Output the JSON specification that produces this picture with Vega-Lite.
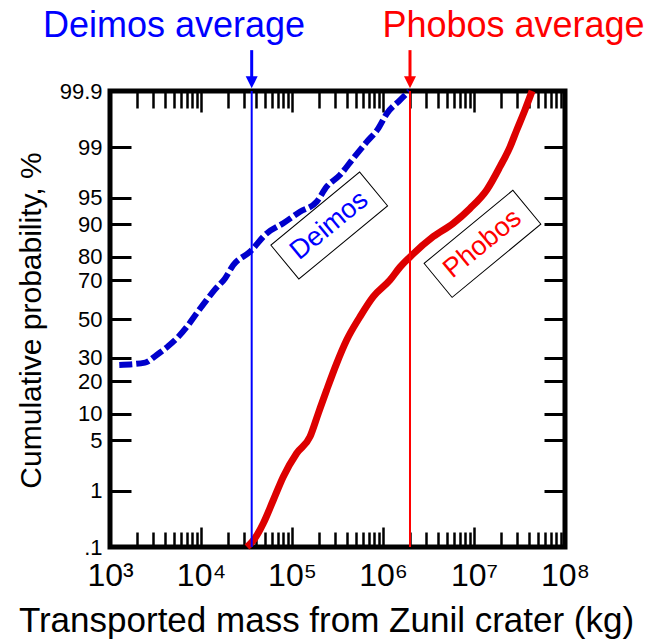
{
  "$schema": "https://vega.github.io/schema/vega-lite/v6.json",
  "width": 455,
  "height": 456,
  "autosize": {"type": "none"},
  "padding": {"left": 110, "top": 91, "right": 87, "bottom": 93},
  "background": "white",
  "config": {"font": "Liberation Sans", "view": {"stroke": "black", "strokeWidth": 5}},
  "datasets": {
    "phobos": [
      {"mass": 32030, "p": 0.1},
      {"mass": 39180, "p": 0.148},
      {"mass": 48420, "p": 0.282},
      {"mass": 62370, "p": 0.708},
      {"mass": 80200, "p": 1.63},
      {"mass": 112600, "p": 3.44},
      {"mass": 157800, "p": 5.54},
      {"mass": 194600, "p": 10.06},
      {"mass": 240400, "p": 16.8},
      {"mass": 309700, "p": 27.4},
      {"mass": 398800, "p": 38.8},
      {"mass": 558500, "p": 51.2},
      {"mass": 781800, "p": 61.9},
      {"mass": 1194000, "p": 70.1},
      {"mass": 1538000, "p": 75.9},
      {"mass": 1980000, "p": 80.0},
      {"mass": 3570000, "p": 86.8},
      {"mass": 5930000, "p": 90.3},
      {"mass": 9040000, "p": 93.3},
      {"mass": 13800000, "p": 95.98},
      {"mass": 19300000, "p": 98.05},
      {"mass": 24900000, "p": 99.02},
      {"mass": 29500000, "p": 99.48},
      {"mass": 36300000, "p": 99.77},
      {"mass": 43500000, "p": 99.9}
    ],
    "deimos": [
      {"mass": 1265, "p": 26.7},
      {"mass": 2427, "p": 27.7},
      {"mass": 3260, "p": 31.3},
      {"mass": 4375, "p": 35.7},
      {"mass": 5640, "p": 40.5},
      {"mass": 7250, "p": 46.8},
      {"mass": 8970, "p": 53.1},
      {"mass": 11560, "p": 60.2},
      {"mass": 14260, "p": 65.6},
      {"mass": 18360, "p": 70.9},
      {"mass": 22650, "p": 76.8},
      {"mass": 34540, "p": 81.9},
      {"mass": 52700, "p": 87.7},
      {"mass": 80200, "p": 90.3},
      {"mass": 122400, "p": 92.7},
      {"mass": 186700, "p": 94.4},
      {"mass": 240400, "p": 96.35},
      {"mass": 336500, "p": 97.45},
      {"mass": 471600, "p": 98.53},
      {"mass": 662300, "p": 99.18},
      {"mass": 887900, "p": 99.51},
      {"mass": 1098500, "p": 99.73},
      {"mass": 1538000, "p": 99.85},
      {"mass": 1950000, "p": 99.9}
    ],
    "averages": [
      {"series": "Deimos", "mass": 36060},
      {"series": "Phobos", "mass": 1980000}
    ],
    "arrows": [
      {"series": "Deimos", "mass": 36060, "p": 99.98658, "p2": 99.945, "ph": 99.9333},
      {"series": "Phobos", "mass": 1980000, "p": 99.98658, "p2": 99.945, "ph": 99.9333}
    ],
    "headers": [
      {"series": "Deimos", "mass": 5050, "p": 99.993335, "label": "Deimos average"},
      {"series": "Phobos", "mass": 27170000, "p": 99.993335, "label": "Phobos average"}
    ],
    "boxes": [
      {"series": "Deimos", "mass": 256500, "p": 89.74, "label": "Deimos"},
      {"series": "Phobos", "mass": 12390000, "p": 84.6, "label": "Phobos"}
    ]
  },
  "resolve": {"axis": {"x": "independent", "y": "independent"}},
  "layer": [
    {
      "data": {"name": "phobos"},
      "transform": [{"calculate": "quantileNormal(datum.p/100)", "as": "z"}],
      "mark": {"type": "line", "color": "#dd0000", "strokeWidth": 7, "interpolate": "monotone"},
      "encoding": {
        "x": {
          "field": "mass", "type": "quantitative",
          "scale": {"type": "log", "domain": [1000, 100000000]},
          "axis": {
            "orient": "bottom",
            "values": [1000,2000,3000,4000,5000,6000,7000,8000,9000,10000,20000,30000,40000,50000,60000,70000,80000,90000,100000,200000,300000,400000,500000,600000,700000,800000,900000,1000000,2000000,3000000,4000000,5000000,6000000,7000000,8000000,9000000,10000000,20000000,30000000,40000000,50000000,60000000,70000000,80000000,90000000,100000000],
            "labelExpr": "abs(log(datum.value)/LN10 - round(log(datum.value)/LN10)) < 0.001 ? '10' + ['³','⁴','⁵','⁶','⁷','⁸'][round(log(datum.value)/LN10) - 3] : ''",
            "tickSize": {"condition": {"test": "abs(log(datum.value)/LN10 - round(log(datum.value)/LN10)) < 0.001", "value": -20}, "value": -15},
            "tickWidth": 2.5,
            "tickColor": "black",
            "domain": false,
            "grid": false,
            "labelFontSize": 32,
            "labelColor": "black",
            "labelPadding": 58,
            "labelBaseline": "alphabetic",
            "labelFlush": false,
            "labelOverlap": false,
            "title": "Transported mass from Zunil crater (kg)",
            "titleFontSize": 35,
            "titleFontWeight": "normal",
            "titleColor": "black",
            "titleX": 216,
            "titleY": 84,
            "titleAlign": "center",
            "titleBaseline": "alphabetic"
          }
        },
        "y": {
          "field": "z", "type": "quantitative",
          "scale": {"domain": [-3.0902, 3.0902], "nice": false, "zero": false},
          "axis": {
            "orient": "left",
            "values": [-3.0902, -2.3263, -1.6449, -1.2816, -0.8416, -0.5244, 0, 0.5244, 0.8416, 1.2816, 1.6449, 2.3263, 3.0902],
            "labelExpr": "datum.value < -3 ? '.1' : toString(round(cumulativeNormal(datum.value)*1000)/10)",
            "tickSize": -21,
            "tickWidth": 3,
            "tickColor": "black",
            "domain": false,
            "grid": false,
            "labelFontSize": 22,
            "labelColor": "black",
            "labelPadding": 29,
            "labelFlush": false,
            "labelOverlap": false,
            "title": "Cumulative probability, %",
            "titleFontSize": 30,
            "titleFontWeight": "normal",
            "titleColor": "black",
            "titleAngle": 270,
            "titleX": -70,
            "titleY": 229,
            "titleAlign": "center",
            "titleBaseline": "alphabetic"
          }
        }
      }
    },
    {
      "data": {"name": "deimos"},
      "transform": [{"calculate": "quantileNormal(datum.p/100)", "as": "z"}],
      "mark": {"type": "line", "color": "#0000cc", "strokeWidth": 6, "strokeDash": [13, 4], "interpolate": "monotone"},
      "encoding": {
        "x": {
          "field": "mass", "type": "quantitative",
          "scale": {"type": "log", "domain": [1000, 100000000]},
          "axis": {
            "orient": "top",
            "values": [1000,2000,3000,4000,5000,6000,7000,8000,9000,10000,20000,30000,40000,50000,60000,70000,80000,90000,100000,200000,300000,400000,500000,600000,700000,800000,900000,1000000,2000000,3000000,4000000,5000000,6000000,7000000,8000000,9000000,10000000,20000000,30000000,40000000,50000000,60000000,70000000,80000000,90000000,100000000],
            "labels": false,
            "tickSize": {"condition": {"test": "abs(log(datum.value)/LN10 - round(log(datum.value)/LN10)) < 0.001", "value": -21}, "value": -17},
            "tickWidth": 2.5,
            "tickColor": "black",
            "domain": false,
            "grid": false,
            "title": null
          }
        },
        "y": {
          "field": "z", "type": "quantitative",
          "scale": {"domain": [-3.0902, 3.0902], "nice": false, "zero": false},
          "axis": {
            "orient": "right",
            "values": [-3.0902, -2.3263, -1.6449, -1.2816, -0.8416, -0.5244, 0, 0.5244, 0.8416, 1.2816, 1.6449, 2.3263, 3.0902],
            "labels": false,
            "tickSize": -21,
            "tickWidth": 3,
            "tickColor": "black",
            "domain": false,
            "grid": false,
            "title": null
          }
        }
      }
    },
    {
      "data": {"name": "averages"},
      "mark": {"type": "rule", "strokeWidth": 2},
      "encoding": {
        "x": {"field": "mass", "type": "quantitative", "scale": {"type": "log", "domain": [1000, 100000000]}, "axis": null},
        "color": {"field": "series", "type": "nominal", "scale": {"domain": ["Deimos", "Phobos"], "range": ["#0000ff", "#ff0000"]}, "legend": null}
      }
    },
    {
      "data": {"name": "arrows"},
      "transform": [
        {"calculate": "quantileNormal(datum.p/100)", "as": "z"},
        {"calculate": "quantileNormal(datum.p2/100)", "as": "z2"}
      ],
      "mark": {"type": "rule", "strokeWidth": 3},
      "encoding": {
        "x": {"field": "mass", "type": "quantitative", "scale": {"type": "log", "domain": [1000, 100000000]}, "axis": null},
        "y": {"field": "z", "type": "quantitative", "scale": {"domain": [-3.0902, 3.0902], "nice": false, "zero": false}, "axis": null},
        "y2": {"field": "z2"},
        "color": {"field": "series", "type": "nominal", "legend": null}
      }
    },
    {
      "data": {"name": "arrows"},
      "transform": [{"calculate": "quantileNormal(datum.ph/100)", "as": "zh"}],
      "mark": {"type": "point", "shape": "M-1,-1L1,-1L0,1Z", "size": 144, "filled": true, "opacity": 1},
      "encoding": {
        "x": {"field": "mass", "type": "quantitative", "scale": {"type": "log", "domain": [1000, 100000000]}, "axis": null},
        "y": {"field": "zh", "type": "quantitative", "scale": {"domain": [-3.0902, 3.0902], "nice": false, "zero": false}, "axis": null},
        "color": {"field": "series", "type": "nominal", "legend": null}
      }
    },
    {
      "data": {"name": "headers"},
      "transform": [{"calculate": "quantileNormal(datum.p/100)", "as": "z"}],
      "mark": {"type": "text", "fontSize": 36, "align": "center", "baseline": "alphabetic"},
      "encoding": {
        "x": {"field": "mass", "type": "quantitative", "scale": {"type": "log", "domain": [1000, 100000000]}, "axis": null},
        "y": {"field": "z", "type": "quantitative", "scale": {"domain": [-3.0902, 3.0902], "nice": false, "zero": false}, "axis": null},
        "text": {"field": "label"},
        "color": {"field": "series", "type": "nominal", "legend": null}
      }
    },
    {
      "data": {"name": "boxes"},
      "transform": [{"calculate": "quantileNormal(datum.p/100)", "as": "z"}],
      "mark": {"type": "point", "shape": "M-1,-0.3826L1,-0.3826L1,0.3826L-1,0.3826Z", "size": 13225, "angle": -39.5, "filled": false, "stroke": "black", "strokeWidth": 1, "opacity": 1},
      "encoding": {
        "x": {"field": "mass", "type": "quantitative", "scale": {"type": "log", "domain": [1000, 100000000]}, "axis": null},
        "y": {"field": "z", "type": "quantitative", "scale": {"domain": [-3.0902, 3.0902], "nice": false, "zero": false}, "axis": null}
      }
    },
    {
      "data": {"name": "boxes"},
      "transform": [{"calculate": "quantileNormal(datum.p/100)", "as": "z"}],
      "mark": {"type": "text", "fontSize": 27, "align": "center", "baseline": "middle", "angle": -39.5},
      "encoding": {
        "x": {"field": "mass", "type": "quantitative", "scale": {"type": "log", "domain": [1000, 100000000]}, "axis": null},
        "y": {"field": "z", "type": "quantitative", "scale": {"domain": [-3.0902, 3.0902], "nice": false, "zero": false}, "axis": null},
        "text": {"field": "label"},
        "color": {"field": "series", "type": "nominal", "legend": null}
      }
    }
  ]
}
